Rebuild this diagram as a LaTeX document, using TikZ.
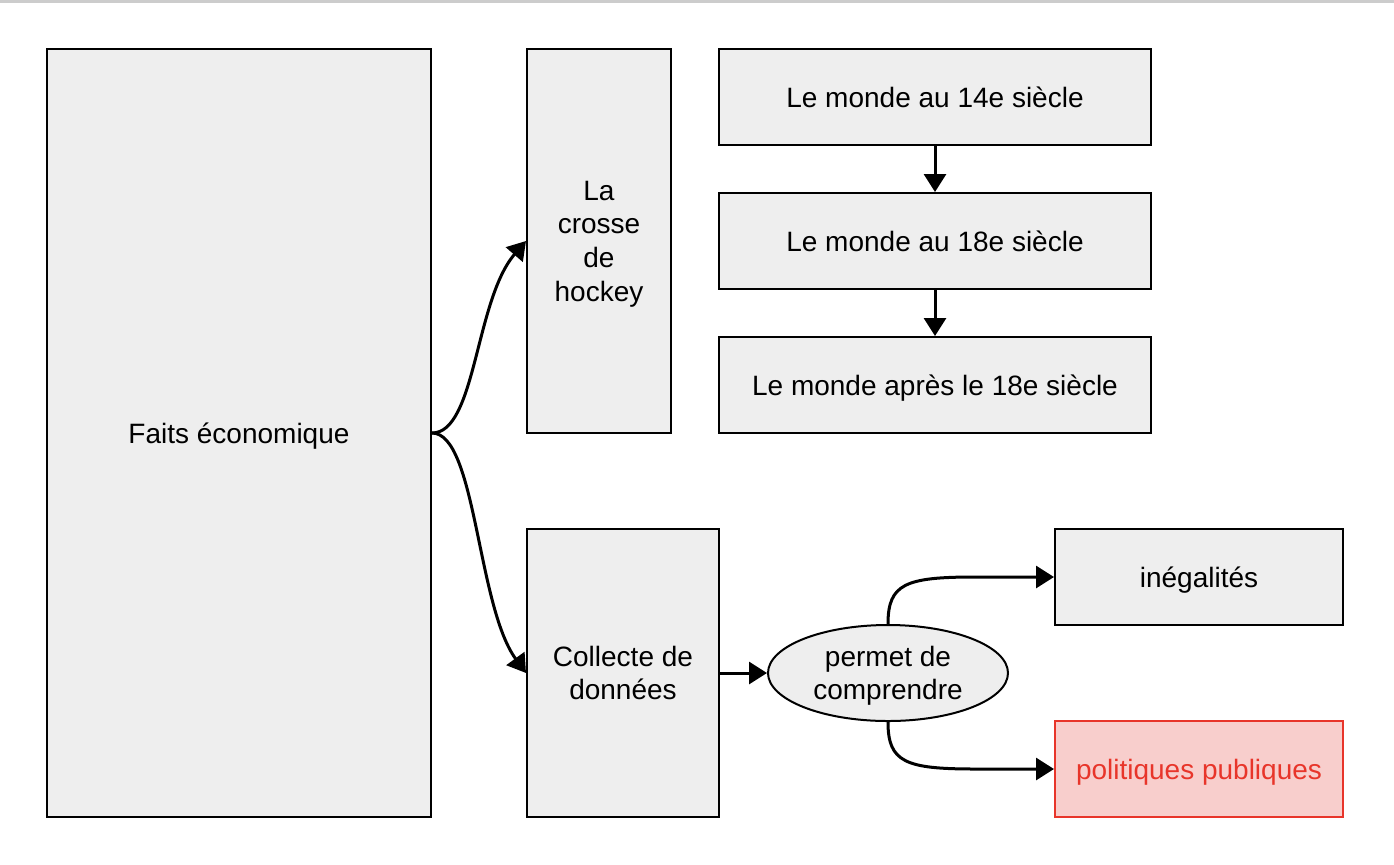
\documentclass[tikz,border=0pt]{standalone}
\usepackage{fontspec}
\setmainfont{Liberation Sans}
\usetikzlibrary{arrows.meta,shapes.geometric}
\definecolor{boxfill}{HTML}{EEEEEE}
\definecolor{redfill}{HTML}{F8CECC}
\definecolor{redline}{HTML}{E8352A}
\definecolor{topline}{HTML}{CCCCCC}
\tikzset{
  box/.style={draw=black,fill=boxfill,line width=1pt,inner sep=0pt,align=center,text depth=0pt,font=\fontsize{14pt}{16.8pt}\selectfont,text=black},
  redbox/.style={box,draw=redline,fill=redfill,text=redline},
  conn/.style={line width=1.5pt,-{Triangle[length=9pt,width=11pt]}},
}
\begin{document}
\begin{tikzpicture}[x=0.5pt,y=-0.5pt]
\useasboundingbox (0,0) rectangle (1394,864);
\fill[topline] (0,0) rectangle (1394,3);
\node[box,minimum width=192pt,minimum height=384pt] (faits) at (239,433) {Faits économique};
\node[box,minimum width=72pt,minimum height=192pt] (crosse) at (599,241) {La\\crosse\\de\\hockey};
\node[box,minimum width=216pt,minimum height=48pt] (m14) at (935,97) {Le monde au 14e siècle};
\node[box,minimum width=216pt,minimum height=48pt] (m18) at (935,241) {Le monde au 18e siècle};
\node[box,minimum width=216pt,minimum height=48pt] (mapres) at (935,385) {Le monde après le 18e siècle};
\node[box,minimum width=96pt,minimum height=144pt] (collecte) at (623,673) {Collecte de\\données};
\node[box,ellipse,minimum width=120pt,minimum height=48pt] (permet) at (888,673) {permet de\\comprendre};
\node[box,minimum width=144pt,minimum height=48pt] (ineg) at (1199,577) {inégalités};
\node[redbox,minimum width=144pt,minimum height=48pt] (pol) at (1199,769) {politiques publiques};
\coordinate (c1) at (975,577);
\coordinate (c2) at (975,769);
\draw[conn] (m14.south) -- (m18.north);
\draw[conn] (m18.south) -- (mapres.north);
\draw[conn] (faits.east) .. controls +(44,0) and (475,300) .. (crosse.west);
\draw[conn] (faits.east) .. controls +(44,0) and (477,606) .. (collecte.west);
\draw[conn] (collecte.east) -- (permet.west);
\draw[conn] (permet.north) .. controls +(0,-40) and +(-70,0) .. (c1) -- (ineg.west);
\draw[conn] (permet.south) .. controls +(0,40) and +(-70,0) .. (c2) -- (pol.west);
\end{tikzpicture}
\end{document}
